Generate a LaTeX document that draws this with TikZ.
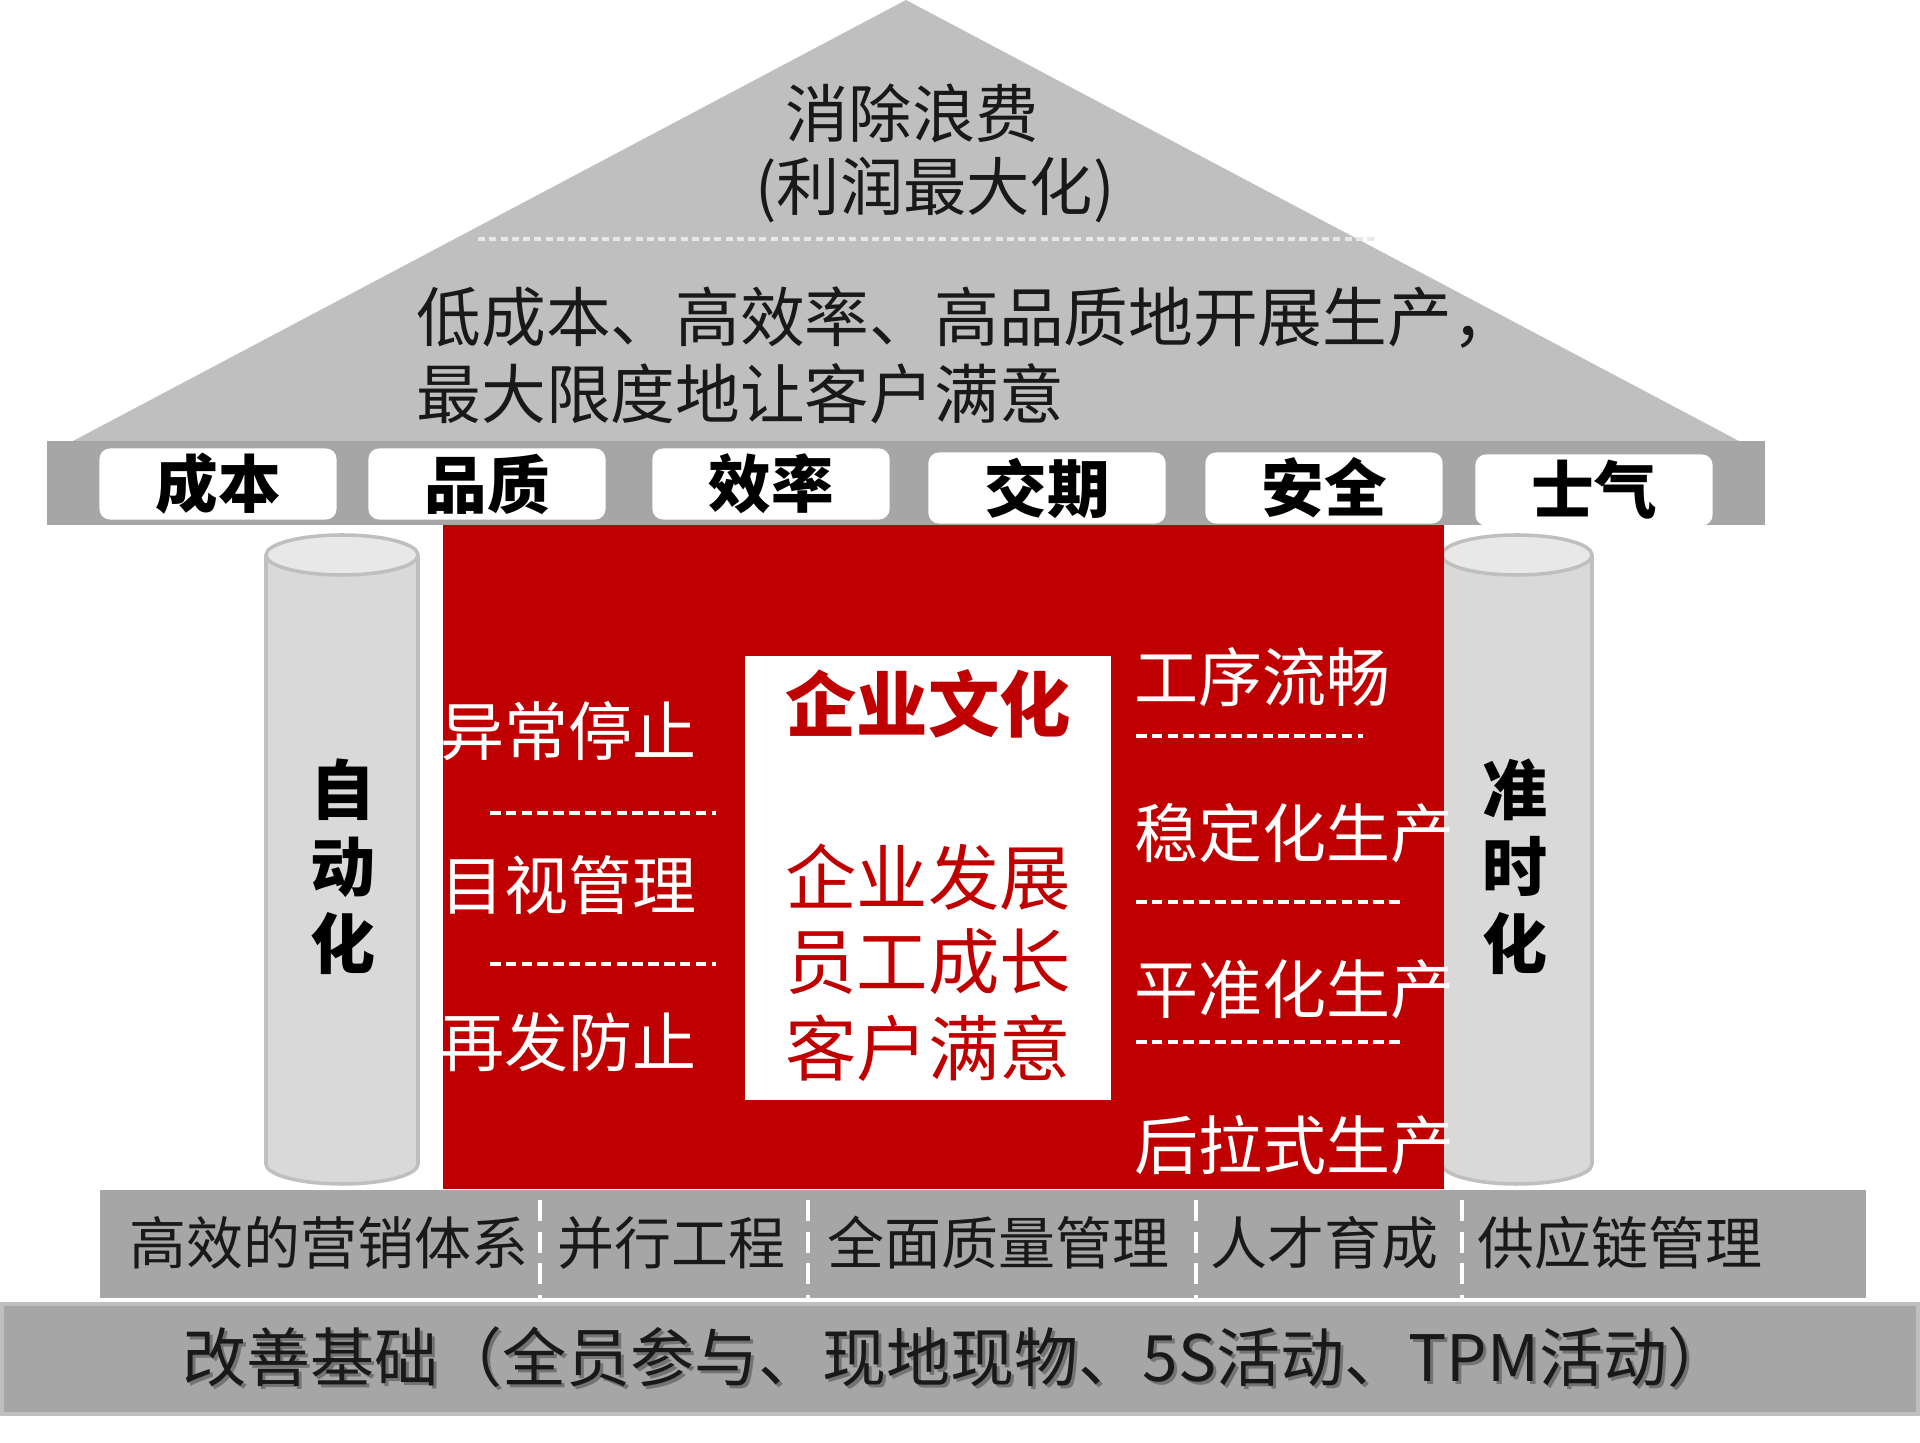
\documentclass[tikz,border=0pt]{standalone}
\usepackage{fontspec}
\setmainfont{Noto Sans CJK SC}
\definecolor{roofgray}{HTML}{BFBFBF}
\definecolor{beamgray}{HTML}{A6A6A6}
\definecolor{wallred}{HTML}{C00000}
\definecolor{colgray}{HTML}{D9D9D9}
\definecolor{coltop}{HTML}{E8E8E8}
\begin{document}
\begin{tikzpicture}[x=0.01cm, y=-0.01cm,
  goal/.style={inner sep=0, text=black!90, font=\fontsize{18}{22}\selectfont},
  tag/.style={draw=none, fill=white, rounded corners=3pt, minimum width=2.37cm,
              minimum height=0.71cm, inner sep=0, font=\fontsize{17.8}{22}\bfseries},
  pillar/.style={inner sep=0, align=center, font=\fontsize{18.5}{21.9}\bfseries},
  wtxt/.style={inner sep=0, anchor=west, text=white, font=\fontsize{18.2}{22}\selectfont},
  rtxt/.style={inner sep=0, text=wallred, font=\fontsize{20.3}{24}\selectfont},
  base/.style={inner sep=0, anchor=west, text=black!90, font=\fontsize{16.2}{20}\selectfont},
  sep/.style={white, line width=1.2pt, dash pattern=on 3pt off 1.5pt},
  colside/.style={draw=roofgray, line width=1pt}
]
  \useasboundingbox (0,0) rectangle (1920,1443);

  % roof
  \fill[roofgray] (906,0) -- (73,441) -- (1739,441) -- cycle;
  \draw[coltop, line width=1.1pt, dash pattern=on 2pt off 1.2pt] (478,239) -- (1378,239);
  \node[goal] (g1) at (912,113) {消除浪费};
  \node[goal] (g2) at (935,190) {(利润最大化)};
  \node[goal, anchor=west, font=\fontsize{18.4}{22}\selectfont] (g3) at (416,318)
    {低成本、高效率、高品质地开展生产，};
  \node[goal, anchor=west, font=\fontsize{18.4}{22}\selectfont] (g4) at (416,394)
    {最大限度地让客户满意};

  % beam with the six targets
  \fill[beamgray] (47,441) rectangle (1765,525);
  \node[tag] (t1) at (218,484)  {成本};
  \node[tag] (t2) at (487,484)  {品质};
  \node[tag] (t3) at (771,484)  {效率};
  \node[tag] (t4) at (1047,488) {交期};
  \node[tag] (t5) at (1324,488) {安全};
  \node[tag] (t6) at (1594,490) {士气};

  % left pillar
  \draw[colside, fill=colgray] (342,1164) ellipse [x radius=76, y radius=20];
  \fill[colgray] (266,555) rectangle (418,1164);
  \draw[colside] (266,555) -- (266,1164);
  \draw[colside] (418,555) -- (418,1164);
  \draw[colside, fill=coltop] (342,555) ellipse [x radius=76, y radius=20];

  % right pillar
  \draw[colside, fill=colgray] (1517,1164) ellipse [x radius=75, y radius=20];
  \fill[colgray] (1442,555) rectangle (1592,1164);
  \draw[colside] (1442,555) -- (1442,1164);
  \draw[colside] (1592,555) -- (1592,1164);
  \draw[colside, fill=coltop] (1517,555) ellipse [x radius=75, y radius=20];

  % red wall and the white centre
  \fill[wallred] (443,525) rectangle (1444,1189);
  \fill[white] (745,656) rectangle (1111,1100);

  \node[pillar] (p1) at (343,867)  {自\\动\\化};
  \node[pillar] (p2) at (1515,867) {准\\时\\化};

  \node[wtxt] (l1) at (440,731)  {异常停止};
  \node[wtxt] (l2) at (440,885)  {目视管理};
  \node[wtxt] (l3) at (440,1042) {再发防止};
  \draw[sep] (490,813) -- (716,813);
  \draw[sep] (490,964) -- (716,964);

  \node[wtxt] (r1) at (1134,677)  {工序流畅};
  \node[wtxt] (r2) at (1134,833)  {稳定化生产};
  \node[wtxt] (r3) at (1134,989)  {平准化生产};
  \node[wtxt] (r4) at (1134,1145) {后拉式生产};
  \draw[sep] (1136,736) -- (1363,736);
  \draw[sep] (1136,902) -- (1401,902);
  \draw[sep] (1136,1042) -- (1401,1042);

  \node[rtxt, font=\fontsize{20.3}{24}\bfseries] (c0) at (928,704) {企业文化};
  \node[rtxt] (c1) at (928,877)  {企业发展};
  \node[rtxt] (c2) at (928,962)  {员工成长};
  \node[rtxt] (c3) at (928,1048) {客户满意};

  % systems row
  \fill[beamgray] (100,1190) rectangle (1866,1298);
  \draw[white, line width=1.2pt, dash pattern=on 6pt off 3pt] (540,1200) -- (540,1302);
  \draw[white, line width=1.2pt, dash pattern=on 6pt off 3pt] (808,1200) -- (808,1302);
  \draw[white, line width=1.2pt, dash pattern=on 6pt off 3pt] (1196,1200) -- (1196,1302);
  \draw[white, line width=1.2pt, dash pattern=on 6pt off 3pt] (1462,1200) -- (1462,1302);
  \node[base] (s1) at (129,1243)  {高效的营销体系};
  \node[base] (s2) at (557,1243)  {并行工程};
  \node[base] (s3) at (827,1243)  {全面质量管理};
  \node[base] (s4) at (1210,1243) {人才育成};
  \node[base] (s5) at (1477,1243) {供应链管理};

  % foundation
  \fill[roofgray] (0,1302) rectangle (1920,1416);
  \fill[beamgray] (4,1306) rectangle (1916,1412);
  \node[goal, font=\fontsize{18.2}{20}\selectfont, text=black, text opacity=0.3] (f0) at (960,1360)
    {改善基础（全员参与、现地现物、5S活动、TPM活动）};
  \node[goal, font=\fontsize{18.2}{20}\selectfont] (f1) at (957,1357)
    {改善基础（全员参与、现地现物、5S活动、TPM活动）};
\end{tikzpicture}
\end{document}
